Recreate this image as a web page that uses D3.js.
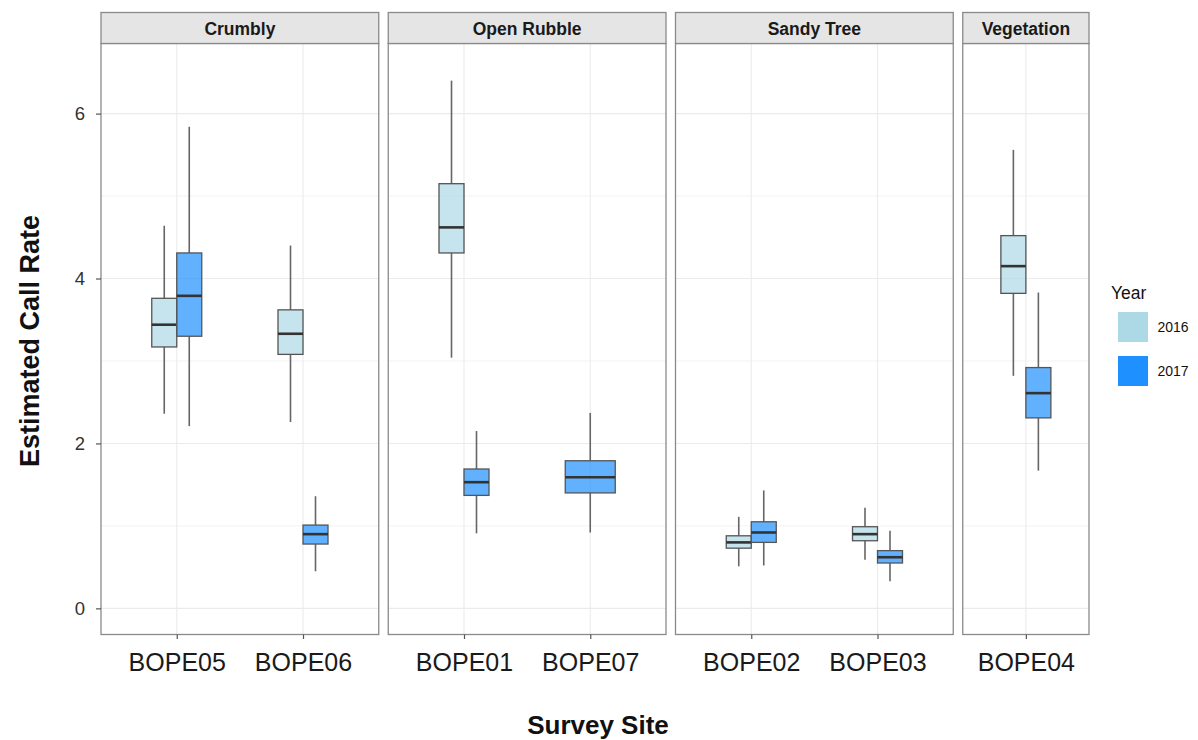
<!DOCTYPE html>
<html>
<head>
<meta charset="utf-8">
<script src="https://cdn.jsdelivr.net/npm/d3@7"></script>
<style>
html,body{margin:0;padding:0;background:#fff;}
text{font-family:"Liberation Sans",Arial,Helvetica,sans-serif;}
</style>
</head>
<body>
<svg id="chart" width="1198" height="740"></svg>
<script>
// ---- data ----
const facets = ["Crumbly", "Open Rubble", "Sandy Tree", "Vegetation"];
const sites = ["BOPE05", "BOPE06", "BOPE01", "BOPE07", "BOPE02", "BOPE03", "BOPE04"];
const siteFacet = ["Crumbly", "Crumbly", "Open Rubble", "Open Rubble", "Sandy Tree", "Sandy Tree", "Vegetation"];
const years = ["2016", "2017"];
const yTicks = [0, 2, 4, 6];

// one entry per box
const boxSite   = ["BOPE05","BOPE05","BOPE06","BOPE06","BOPE01","BOPE01","BOPE07","BOPE02","BOPE02","BOPE03","BOPE03","BOPE04","BOPE04"];
const boxYear   = ["2016","2017","2016","2017","2016","2017","2017","2016","2017","2016","2017","2016","2017"];
const whiskLow  = [2.36, 2.21, 2.26, 0.45, 3.04, 0.91, 0.92, 0.51, 0.52, 0.59, 0.33, 2.82, 1.67];
const q1        = [3.17, 3.30, 3.08, 0.78, 4.31, 1.37, 1.40, 0.73, 0.80, 0.82, 0.55, 3.82, 2.31];
const medians   = [3.44, 3.79, 3.33, 0.90, 4.62, 1.53, 1.59, 0.80, 0.92, 0.90, 0.62, 4.15, 2.61];
const q3        = [3.76, 4.31, 3.62, 1.01, 5.15, 1.69, 1.79, 0.88, 1.05, 0.99, 0.70, 4.52, 2.92];
const whiskHigh = [4.64, 5.84, 4.40, 1.36, 6.40, 2.15, 2.37, 1.11, 1.43, 1.22, 0.94, 5.56, 3.83];

// ---- layout ----
const svg = d3.select("#chart");
const plotLeft = 101, plotRight = 1089, gap = 9.5;
const stripTop = 12.5, stripBottom = 43.5, panelBottom = 634.5;

const y = d3.scaleLinear().domain([-0.317, 6.85]).range([panelBottom, stripBottom]);
const fill = d3.scaleOrdinal().domain(years).range(["#ADD8E6", "#1E90FF"]);

const facetSites = facets.map(f => sites.filter((s, i) => siteFacet[i] === f));
const weights = facetSites.map(s => s.length === 1 ? 1 : s.length + 0.2);
const totalW = d3.sum(weights);
const unit = (plotRight - plotLeft - gap * (facets.length - 1)) / totalW;
let cursor = plotLeft;
const panels = facets.map((f, i) => {
  const p = {name: f, sites: facetSites[i], x0: cursor, x1: cursor + weights[i] * unit};
  cursor = p.x1 + gap;
  return p;
});

const dodgeWidth = 50;
const gridColor = "#EBEBEB";

panels.forEach(p => {
  const x = d3.scalePoint().domain(p.sites).range([p.x0, p.x1]).padding(0.6);
  if (p.sites.length === 1) x.padding(0.5);
  const g = svg.append("g");

  const minor = [1, 3, 5];
  g.selectAll(".hminor").data(minor).enter().append("line")
    .attr("x1", p.x0).attr("x2", p.x1)
    .attr("y1", d => y(d)).attr("y2", d => y(d))
    .attr("stroke", "#F2F2F2").attr("stroke-width", 1);
  g.selectAll(".hmajor").data(yTicks).enter().append("line")
    .attr("x1", p.x0).attr("x2", p.x1)
    .attr("y1", d => y(d)).attr("y2", d => y(d))
    .attr("stroke", gridColor).attr("stroke-width", 1.1);
  g.selectAll(".vgrid").data(p.sites).enter().append("line")
    .attr("x1", d => x(d)).attr("x2", d => x(d))
    .attr("y1", stripBottom).attr("y2", panelBottom)
    .attr("stroke", gridColor).attr("stroke-width", 1.1);

  const idx = boxSite.map((s, i) => i).filter(i => p.sites.includes(boxSite[i]));
  idx.forEach(i => {
    const site = boxSite[i];
    const groupYears = boxYear.filter((yy, j) => boxSite[j] === site);
    const n = groupYears.length;
    const bw = dodgeWidth / n;
    const k = groupYears.indexOf(boxYear[i]);
    const left = x(site) - dodgeWidth / 2 + k * bw;
    const cx = left + bw / 2;
    g.append("line").attr("x1", cx).attr("x2", cx)
      .attr("y1", y(whiskHigh[i])).attr("y2", y(q3[i]))
      .attr("stroke", "#666").attr("stroke-width", 1.6);
    g.append("line").attr("x1", cx).attr("x2", cx)
      .attr("y1", y(q1[i])).attr("y2", y(whiskLow[i]))
      .attr("stroke", "#666").attr("stroke-width", 1.6);
    g.append("rect").attr("x", left).attr("y", y(q3[i]))
      .attr("width", bw).attr("height", y(q1[i]) - y(q3[i]))
      .attr("fill", fill(boxYear[i])).attr("fill-opacity", 0.7)
      .attr("stroke", "#555").attr("stroke-width", 1.3);
    g.append("line").attr("x1", left).attr("x2", left + bw)
      .attr("y1", y(medians[i])).attr("y2", y(medians[i]))
      .attr("stroke", "#333").attr("stroke-width", 2.6);
  });

  g.append("rect").attr("x", p.x0).attr("y", stripBottom)
    .attr("width", p.x1 - p.x0).attr("height", panelBottom - stripBottom)
    .attr("fill", "none").attr("stroke", "#8A8A8A").attr("stroke-width", 1.3);

  g.append("rect").attr("x", p.x0).attr("y", stripTop)
    .attr("width", p.x1 - p.x0).attr("height", stripBottom - stripTop)
    .attr("fill", "#E5E5E5").attr("stroke", "#8A8A8A").attr("stroke-width", 1.3);
  g.append("text").attr("x", (p.x0 + p.x1) / 2).attr("y", 34.5)
    .attr("text-anchor", "middle").attr("font-weight", "bold")
    .attr("font-size", 17.5).attr("fill", "#1a1a1a").text(p.name);

  const ax = d3.axisBottom(x).tickSize(4.5).tickPadding(12);
  const axg = svg.append("g").attr("transform", `translate(0,${panelBottom})`).call(ax);
  axg.select(".domain").remove();
  axg.selectAll(".tick line").attr("stroke", "#555").attr("stroke-width", 1.2);
  axg.selectAll(".tick text").attr("font-size", 25).attr("fill", "#1a1a1a")
    .attr("font-family", "Liberation Sans, Arial, sans-serif")
    .attr("dy", "0.71em").attr("y", 18.5);
});

const ay = d3.axisLeft(y).tickValues(yTicks).tickFormat(d3.format("d")).tickSize(5).tickPadding(11);
const ayg = svg.append("g").attr("transform", `translate(${plotLeft},0)`).call(ay);
ayg.select(".domain").remove();
ayg.selectAll(".tick line").attr("stroke", "#555").attr("stroke-width", 1.2);
ayg.selectAll(".tick text").attr("font-size", 18.5).attr("fill", "#333")
  .attr("font-family", "Liberation Sans, Arial, sans-serif");

svg.append("text").attr("x", 598).attr("y", 734)
  .attr("text-anchor", "middle").attr("font-weight", "bold").attr("font-size", 26)
  .attr("fill", "#111").text("Survey Site");
svg.append("text").attr("transform", `translate(39,${(stripBottom + panelBottom) / 2 + 2}) rotate(-90)`)
  .attr("text-anchor", "middle").attr("font-weight", "bold").attr("font-size", 27)
  .attr("fill", "#111").text("Estimated Call Rate");

const lg = svg.append("g");
lg.append("text").attr("x", 1111).attr("y", 298.5).attr("font-size", 17.5).attr("fill", "#111").text("Year");
years.forEach((yr, i) => {
  lg.append("rect").attr("x", 1118).attr("y", 312 + i * 44).attr("width", 30).attr("height", 30)
    .attr("fill", fill(yr));
  lg.append("text").attr("x", 1157.5).attr("y", 327 + i * 44).attr("dy", "0.35em")
    .attr("font-size", 14).attr("fill", "#111").text(yr);
});
</script>
</body>
</html>
